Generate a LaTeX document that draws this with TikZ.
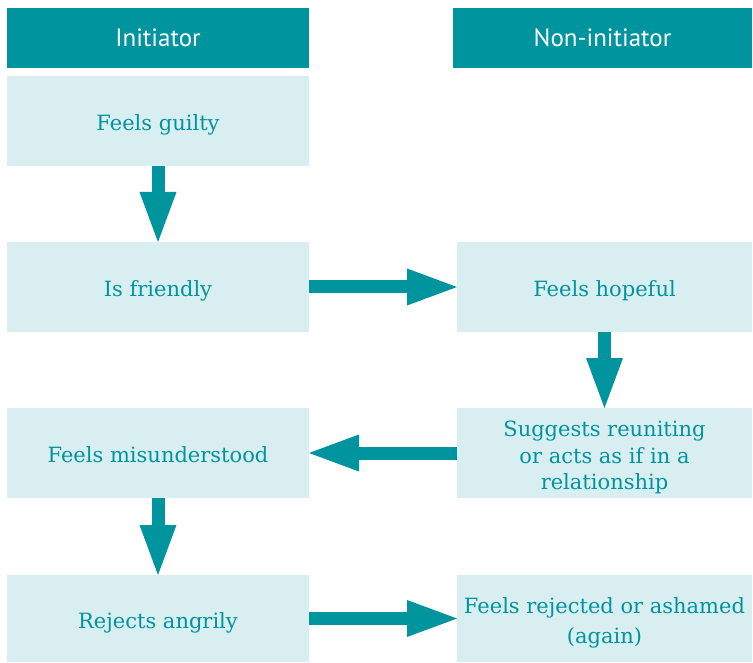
\documentclass[tikz,border=0pt]{standalone}
\usepackage{fontspec}
\setmainfont{DejaVu Serif}
\newfontfamily\headfont{PT Sans}
\usetikzlibrary{arrows.meta}
\definecolor{teal}{RGB}{0,148,158}
\definecolor{paleteal}{RGB}{217,238,241}
\tikzset{
  head/.style={fill=teal, text=white, minimum height=60pt, inner sep=0pt, outer sep=0pt,
    font=\headfont\fontsize{25}{28}\selectfont},
  stepbox/.style={fill=paleteal, text=teal, minimum width=302pt, minimum height=90pt,
    inner sep=0pt, outer sep=0pt, align=center, text height=19pt, text depth=0pt,
    font=\fontsize{21}{26.5}\selectfont},
  flow/.style={draw=teal, line width=13pt,
    -{Triangle[length=50pt,width=37pt,line width=0pt]}}
}
\begin{document}
\begin{tikzpicture}[x=1pt,y=-1pt]
  \useasboundingbox (0,0) rectangle (753,663);
  % column headers
  \node[head, minimum width=302pt] (initiator) at (158,38) {Initiator};
  \node[head, minimum width=299pt] (noninitiator) at (602.5,38) {Non-initiator};
  % initiator side
  \node[stepbox] (guilty) at (158,121) {Feels guilty};
  \node[stepbox] (friendly) at (158,287) {Is friendly};
  \node[stepbox] (misunderstood) at (158,453) {Feels misunderstood};
  \node[stepbox, minimum height=87pt] (angrily) at (158,618.5) {Rejects angrily};
  % non-initiator side
  \node[stepbox, minimum width=295pt] (hopeful) at (604.5,287) {Feels hopeful};
  \node[stepbox, minimum width=295pt, text height=73pt] (reuniting) at (604.5,453)
    {Suggests reuniting\\or acts as if in a\\relationship};
  \node[stepbox, minimum width=295pt, minimum height=87pt, text height=49pt] (rejected)
    at (604.5,618.5) {Feels rejected or ashamed\\[3.5pt](again)};
  % arrows
  \draw[flow] (guilty) -- (friendly);
  \draw[flow] (friendly) -- (hopeful);
  \draw[flow] (hopeful) -- (reuniting);
  \draw[flow] (reuniting) -- (misunderstood);
  \draw[flow] (misunderstood) -- (angrily);
  \draw[flow] (angrily) -- (rejected);
\end{tikzpicture}
\end{document}
